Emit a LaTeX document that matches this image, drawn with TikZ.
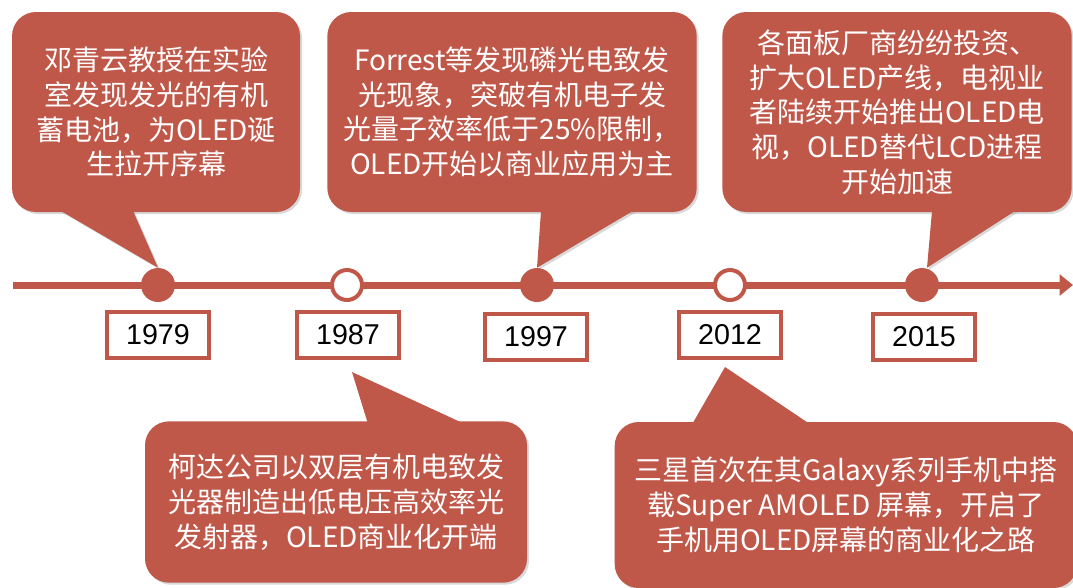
\documentclass[tikz,border=0pt]{standalone}
\usepackage{fontspec}
\usepackage{tikz}
\usetikzlibrary{arrows.meta,calc,shadows,backgrounds}
\newfontfamily\cjk{Noto Sans CJK SC}
\newfontfamily\yearfont{Liberation Sans}
\definecolor{oledred}{RGB}{192,88,74}

\begin{document}
\begin{tikzpicture}[x=0.75pt, y=-0.75pt,
        boxshadow/.style={drop shadow={shadow xshift=1.5pt, shadow yshift=-1.5pt, opacity=0.3}},
        bubble/.style={boxshadow, fill=oledred, rounded corners=18pt, inner sep=0pt, text=white, align=center,
            font=\cjk\fontsize{21pt}{26pt}\selectfont},
        ptr/.style={boxshadow, fill=oledred},
        dot/.style={circle, fill=oledred, minimum size=25.5pt, inner sep=0pt},
        hole/.style={circle, draw=oledred, line width=3pt, fill=white, minimum size=22.5pt, inner sep=0pt},
        yearbox/.style={boxshadow, draw=oledred, line width=3pt, fill=white, minimum width=77pt,
            minimum height=34.5pt, font=\yearfont\fontsize{21.5pt}{24pt}\selectfont}]
        \useasboundingbox (0,0) rectangle (1073,587);

        % timeline
        \coordinate (s) at (13,285);
        \coordinate (e) at (1073,285);
        \draw[oledred, line width=5.25pt, -{Triangle[length=10pt,width=15.5pt]}] (s) -- (e);

        \node[dot] (d1) at (158,285) {};
        \node[hole] (d2) at (347,285) {};
        \node[dot] (d3) at (537,285) {};
        \node[hole] (d4) at (730,285) {};
        \node[dot] (d5) at (922,285) {};

        \node[yearbox] (y1) at (158,335) {1979};
        \node[yearbox] (y2) at (348,335) {1987};
        \node[yearbox] (y3) at (536,337) {1997};
        \node[yearbox] (y4) at (730,335) {2012};
        \node[yearbox] (y5) at (924,337) {2015};

        % callouts above the line
        \node[bubble, minimum width=216pt, minimum height=150pt] (t1) at (156,112)
            {邓青云教授在实验\\室发现发光的有机\\蓄电池，为OLED诞\\生拉开序幕};
        \fill[ptr] ($(t1.south west)+(48,-2)$) -- (d1.north) -- ($(t1.south west)+(121,-2)$) -- cycle;

        \node[bubble, minimum width=277pt, minimum height=150pt] (t2) at (512,112)
            {Forrest等发现磷光电致发\\光现象，突破有机电子发\\光量子效率低于25\%限制，\\OLED开始以商业应用为主};
        \fill[ptr] ($(t2.south west)+(214,-2)$) -- (d3.north) -- ($(t2.south west)+(307,-2)$) -- cycle;

        \node[bubble, minimum width=262pt, minimum height=150pt] (t3) at (897,112)
            {各面板厂商纷纷投资、\\扩大OLED产线，电视业\\者陆续开始推出OLED电\\视，OLED替代LCD进程\\开始加速};
        \fill[ptr] ($(t3.south west)+(210,-2)$) -- ($(d5.north)+(5,0)$) -- ($(t3.south west)+(294,-2)$) -- cycle;

        % callouts below the line
        \node[bubble, minimum width=286.5pt, minimum height=121pt] (b1) at (336,502)
            {柯达公司以双层有机电致发\\光器制造出低电压高效率光\\发射器，OLED商业化开端};
        \node[bubble, minimum width=347pt, minimum height=124.5pt] (b2) at (846,505)
            {三星首次在其Galaxy系列手机中搭\\载Super AMOLED 屏幕，开启了\\手机用OLED屏幕的商业化之路};
        \begin{scope}[on background layer]
            \fill[ptr] ($(b1.north west)+(223,2)$) -- ($(y2.south)+(4,12)$) -- ($(b1.north west)+(318,2)$) -- cycle;
            \fill[ptr] ($(b2.north west)+(78,2)$) -- ($(y4.south)+(-5,7)$) -- ($(b2.north west)+(195,2)$) -- cycle;
        \end{scope}
    \end{tikzpicture}
\end{document}
